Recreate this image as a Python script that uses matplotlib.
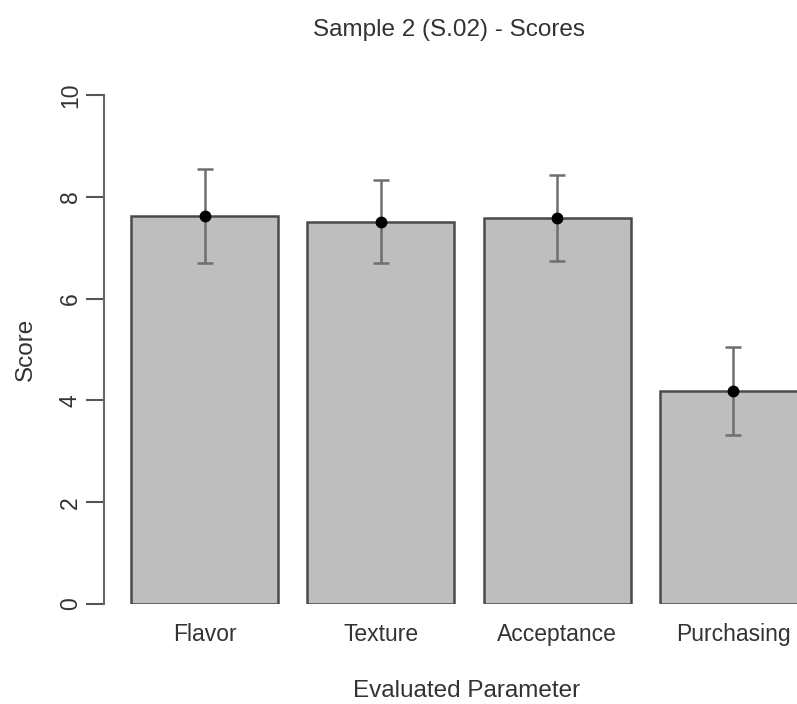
import numpy as np
import matplotlib
matplotlib.use("Agg")
import matplotlib.pyplot as plt

plt.rcParams['font.family'] = ['Liberation Sans', 'DejaVu Sans']

params = ["Flavor", "Texture", "Acceptance", "Purchasing"]
means = [7.62, 7.51, 7.58, 4.18]
errs = [0.93, 0.82, 0.85, 0.86]
yticks = [0, 2, 4, 6, 8, 10]

W, H = 797, 704
fig = plt.figure(figsize=(W / 100, H / 100), dpi=100)

# barplot-style layout: width 1, space 0.2, axis runs off the right edge
ax = fig.add_axes([104 / W, 100 / H, 730 / W, 509 / H])
x = 0.7 + 1.2 * np.arange(len(params))
ax.bar(x, means, width=1.0, color="#bebebe", edgecolor="#4a4a4a", linewidth=1.8, zorder=2)
ax.errorbar(x, means, yerr=errs, fmt="none", ecolor="#6e6e6e", elinewidth=1.8,
            capsize=5.5, capthick=1.8, zorder=3, clip_on=False)
ax.plot(x, means, "o", color="black", markersize=7.5, zorder=4, clip_on=False)

ax.set_xlim(0.016, 4.984)
ax.set_ylim(0, 10)
for s in ["top", "right", "bottom"]:
    ax.spines[s].set_visible(False)
ax.spines["left"].set_bounds(0, 10)
ax.spines["left"].set_color("#666666")
ax.spines["left"].set_linewidth(1.5)

ax.set_yticks(yticks)
ax.set_yticklabels([str(v) for v in yticks], rotation=90, va="center", fontsize=16.5, color="#333333")
ax.tick_params(axis="y", length=13, width=1.5, color="#555555", pad=3)
ax.set_xticks(x)
ax.set_xticklabels(params, fontsize=16.5, color="#333333")
ax.tick_params(axis="x", length=0, pad=14)

fig.text(26 / W, 1 - 349 / H, "Score", rotation=90, ha="center", va="center", fontsize=17.5, color="#333333")
fig.text(467 / W, 1 - 697 / H, "Evaluated Parameter", ha="center", va="baseline", fontsize=17.5, color="#333333")
fig.text(449 / W, 1 - 36 / H, "Sample 2 (S.02) - Scores", ha="center", va="baseline", fontsize=17.5, color="#333333")

fig.savefig("out.png", dpi=100)
